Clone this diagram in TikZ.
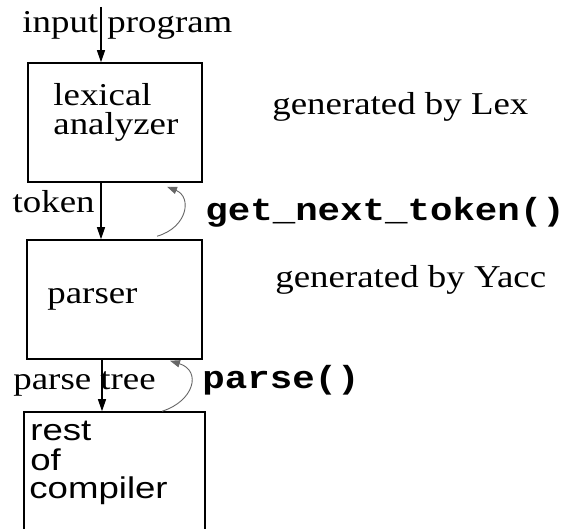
\documentclass[tikz,border=0pt]{standalone}
\usepackage{fontspec}
\setmainfont{Liberation Serif}[FakeStretch=1.16]
\setsansfont{Liberation Sans}[FakeStretch=1.22]
\setmonofont{Liberation Mono}[FakeStretch=1.17]
\usetikzlibrary{arrows.meta,calc,positioning}

\tikzset{
  blk/.style={draw, line width=0.75pt, inner sep=0pt},
  lbl/.style={inner sep=0pt, font=\fontsize{15.9}{19}\selectfont},
  sflbl/.style={lbl, font=\fontsize{15}{19}\selectfont\sffamily},
  code/.style={lbl, font=\fontsize{16}{19}\selectfont\ttfamily\bfseries},
  conn/.style={-{Triangle[length=6pt,width=4pt]}, line width=0.6pt},
  callback/.style={-{Triangle[length=5pt,width=3.6pt]}, line width=0.45pt,
    draw=black!60, fill=none},
}

\begin{document}
\begin{tikzpicture}[x=0.5pt, y=-0.5pt]
  \useasboundingbox (0,0) rectangle (568,529);
  % boxes
  \node[blk, minimum width=87pt, minimum height=59.5pt] (lex) at (115,122.5) {};
  \node[blk, minimum width=87.5pt, minimum height=59.5pt] (parser) at (114.5,299.5) {};
  \node[blk, minimum width=90.5pt, minimum height=74pt] (rest) at (114.5,486) {};
  % box texts
  \node[lbl, anchor=base west] (lexa) at (53,106) {lexical};
  \node[lbl, anchor=base west] (lexb) at (53,135) {analyzer};
  \node[lbl, anchor=base west] (parselbl) at (47,304) {parser};
  \node[sflbl, anchor=base west] (resta) at (30,440) {rest};
  \node[sflbl, anchor=base west] (restb) at (30,470) {of};
  \node[sflbl, anchor=base west] (restc) at (29,498) {compiler};
  % side notes
  \node[lbl, anchor=base west] (bylex) at (272,115) {generated by Lex};
  \node[lbl, anchor=base west] (byyacc) at (275,288) {generated by Yacc};
  \node[code, anchor=base west] (gettok) at (205,221) {get\_next\_token()};
  \node[code, anchor=base west] (parsefn) at (202,388) {parse()};
  % flow labels
  \node[lbl, anchor=base west] (input) at (22,33) {input program};
  \node[lbl, anchor=base east] (tok) at (95,213) {token};
  \node[lbl, anchor=base west] (tree) at (13,390) {parse tree};
  % main flow
  \coordinate (src) at (101,7);
  \draw[conn] (src) -- (lex.north -| src);
  \draw[conn] (lex.south -| src) -- (parser.north -| src);
  \draw[conn] ($(parser.south -| src)+(1,0)$) -- ($(rest.north -| src)+(1,0)$);
  % calls back
  \draw[callback] ($(parser.north)+(42.5,-3)$) .. controls +(31,-9) and +(25,10) .. ($(lex.south)+(52,4)$);
  \draw[callback] ($(rest.north)+(47.5,0)$) .. controls +(32,-10) and +(32,10) .. ($(parser.south)+(55.5,1)$);
\end{tikzpicture}
\end{document}
